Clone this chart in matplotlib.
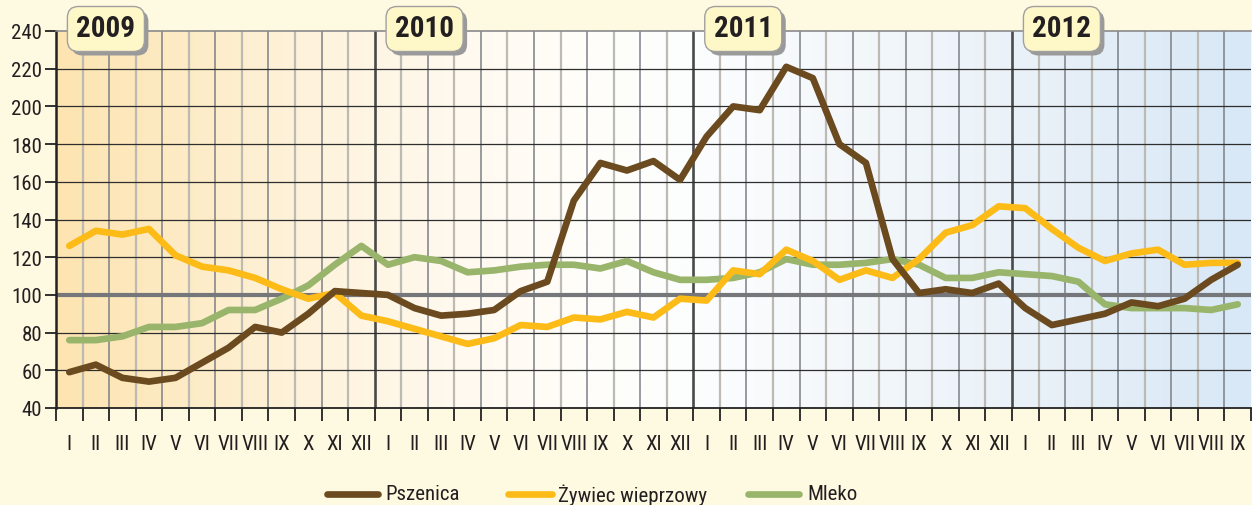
import numpy as np
import matplotlib
matplotlib.use("Agg")
import matplotlib.pyplot as plt
from matplotlib.patches import FancyBboxPatch
from matplotlib.lines import Line2D
from matplotlib.transforms import IdentityTransform

# ---------------- data ----------------
years = ["2009", "2010", "2011", "2012"]
months = ["I", "II", "III", "IV", "V", "VI", "VII", "VIII", "IX", "X", "XI", "XII"]
month_labels = months * 3 + months[:9]

pszenica = [59, 63, 56, 54, 56, 64, 72, 83, 80, 90, 102, 101,
            100, 93, 89, 90, 92, 102, 107, 150, 170, 166, 171, 161,
            184, 200, 198, 221, 215, 180, 170, 119, 101, 103, 101, 106,
            93, 84, 87, 90, 96, 94, 98, 108, 116]
zywiec = [126, 134, 132, 135, 121, 115, 113, 109, 103, 98, 101, 89,
          86, 82, 78, 74, 77, 84, 83, 88, 87, 91, 88, 98,
          97, 113, 111, 124, 118, 108, 113, 109, 119, 133, 137, 147,
          146, 135, 125, 118, 122, 124, 116, 117, 117]
mleko = [76, 76, 78, 83, 83, 85, 92, 92, 98, 105, 116, 126,
         116, 120, 118, 112, 113, 115, 116, 116, 114, 118, 112, 108,
         108, 109, 112, 119, 116, 116, 117, 119, 116, 109, 109, 112,
         111, 110, 107, 95, 93, 93, 93, 92, 95]

series_names = ["Pszenica", "Żywiec wieprzowy", "Mleko"]
series_colors = ["#6A4A1E", "#FDBB17", "#98B56B"]

# ---------------- figure ----------------
W, H, DPI = 1252, 506, 100
FONT = ["Roboto Condensed", "Liberation Sans", "DejaVu Sans"]
plt.rcParams["font.family"] = FONT
TXT = "#231F20"

fig = plt.figure(figsize=(W / DPI, H / DPI), dpi=DPI, facecolor="#FEF9E1")
ax_l, ax_r, ax_t, ax_b = 56, 1251, 32, 409
ax = fig.add_axes([ax_l / W, (H - ax_b) / H, (ax_r - ax_l) / W, (ax_b - ax_t) / H])

n = len(pszenica)
x = np.arange(n)
ax.set_xlim(-0.5, n - 0.5)
ax.set_ylim(40, 240)

# background gradient
stops_px = [56, 300, 450, 560, 700, 900, 1050, 1252]
stops_col = [(253, 228, 176), (254, 242, 218), (255, 249, 238), (255, 253, 248),
             (252, 253, 254), (241, 246, 250), (232, 240, 248), (216, 232, 246)]
xs = np.linspace(56, 1252, 600)
grad = np.zeros((1, len(xs), 3))
for c in range(3):
    grad[0, :, c] = np.interp(xs, stops_px, [s[c] for s in stops_col]) / 255.0
ax.imshow(grad, extent=(-0.5, n - 0.5, 40, 240), aspect="auto", zorder=0,
          interpolation="bilinear")

# grid
for k in range(1, n):
    xb = k - 0.5
    if k % 12 == 0:
        ax.axvline(xb, color="#4A4A4A", lw=1.9, zorder=1)
    elif k % 2 == 1:
        ax.axvline(xb, color="#BDBAB3", lw=1.6, zorder=1)
    else:
        ax.axvline(xb, color="#7C8088", lw=1.1, zorder=1)
for yv in range(60, 240, 20):
    if yv == 100:
        continue
    ax.axhline(yv, color="#2E2E2E", lw=0.9, zorder=1)
ax.axhline(100, color="#76777B", lw=3.0, zorder=2)

# series (green bottom, then yellow, then brown on top)
for vals, col, z in [(mleko, series_colors[2], 3), (zywiec, series_colors[1], 4),
                     (pszenica, series_colors[0], 5)]:
    ax.plot(x, vals, color=col, lw=4.8, solid_joinstyle="round",
            solid_capstyle="round", zorder=z)

# spines
ax.spines["right"].set_visible(False)
ax.spines["top"].set_color("#8A8A8A")
ax.spines["top"].set_linewidth(1.2)
ax.spines["left"].set_color("#222222")
ax.spines["left"].set_linewidth(1.8)
ax.spines["bottom"].set_color("#222222")
ax.spines["bottom"].set_linewidth(1.3)

# ticks
ax.set_yticks(range(40, 241, 20))
ax.tick_params(axis="y", length=8, width=1.3, color="#222222", labelsize=15,
               labelcolor=TXT, pad=2)
ax.set_xticks(x)
ax.set_xticklabels(month_labels)
ax.tick_params(axis="x", which="major", length=0, labelsize=15, labelcolor=TXT, pad=19)
ax.set_xticks(np.arange(-0.5, n, 1.0), minor=True)
ax.tick_params(axis="x", which="minor", length=9, width=1.3, color="#222222")

# year boxes
fig.canvas.draw()
trans = ax.transData
for i, yr in enumerate(years):
    cx_disp, _ = trans.transform((12 * i - 0.5 + 1.88, 240))
    bw, bh = 77, 45
    cy_disp = H - 30
    x0, y0 = cx_disp - bw / 2, cy_disp - bh / 2
    shadow = FancyBboxPatch((x0 + 4, y0 - 4), bw, bh,
                            boxstyle="round,pad=0,rounding_size=11",
                            transform=IdentityTransform(), facecolor="#9A9A9A",
                            edgecolor="none", zorder=10)
    box = FancyBboxPatch((x0, y0), bw, bh, boxstyle="round,pad=0,rounding_size=11",
                         transform=IdentityTransform(), facecolor="#FEF8C9",
                         edgecolor="#A0A0A0", lw=1.0, zorder=11)
    fig.patches.append(shadow)
    fig.patches.append(box)
    fig.text(cx_disp / W, (cy_disp + 1) / H, yr, ha="center", va="center",
             fontsize=21, fontweight="bold", color=TXT, zorder=12,
             family=FONT)

# legend
leg_y = 495
legend_items = [(327, 378, 385), (508, 552, 558), (748, 799, 807)]
for (lx0, lx1, tx), name, col in zip(legend_items, series_names, series_colors):
    fig.lines.append(Line2D([lx0 / W, lx1 / W], [(H - leg_y) / H] * 2,
                            transform=fig.transFigure, color=col, lw=4.8,
                            solid_capstyle="round"))
    fig.text(tx / W, (H - leg_y) / H, name, ha="left", va="center",
             fontsize=15, color=TXT, family=FONT)

fig.savefig("out.png", dpi=DPI, facecolor=fig.get_facecolor())
